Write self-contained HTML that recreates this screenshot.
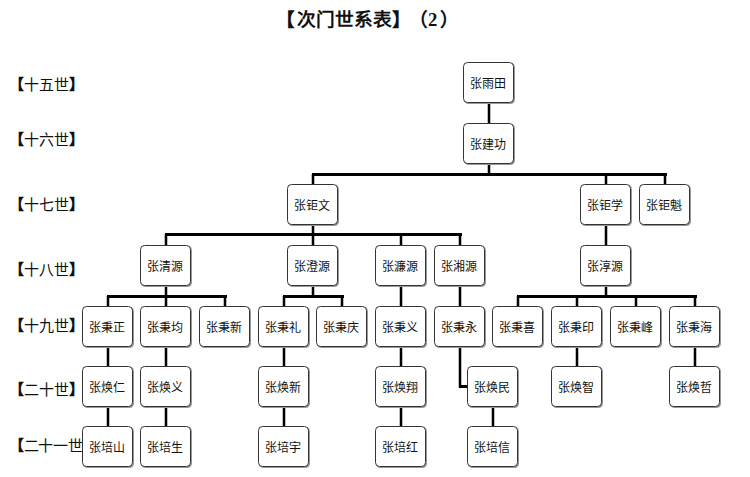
<!DOCTYPE html><html lang="zh-CN"><head><meta charset="utf-8"><title>次门世系表</title><style>
*{margin:0;padding:0;box-sizing:border-box}
html,body{width:750px;height:477px;background:#fff;overflow:hidden}
body{position:relative;text-spacing-trim:space-all;font-family:"Liberation Sans",sans-serif;color:#111}
.t{position:absolute;left:278px;top:5px;font-weight:bold;font-size:18.67px;line-height:30px;white-space:nowrap}
.t span{display:inline-block}
.l{position:absolute;left:9px;font-size:15px;line-height:30px;white-space:nowrap}
.b{position:absolute;width:51px;height:41px;background:#fff;border:1px solid #333;border-radius:4.5px;box-shadow:1px 1px 0 #999;font-size:12px;line-height:40px;padding:1px 2px 0 0;text-align:center;white-space:nowrap}
.k{position:absolute;background:#000}
.v{box-shadow:1px 0 0 #bbb,-1px 0 0 #bbb}
</style></head><body>
<div class="t"><span style="position:relative;left:-2px">【</span>次门世系表】<span style="position:relative;left:-2px">（<span style="font-family:'Liberation Serif',serif">2</span></span><span style="position:relative;left:1px">）</span></div>
<div class="k v" style="left:488px;top:103px;width:2px;height:20px"></div>
<div class="k v" style="left:488px;top:164px;width:2px;height:10px"></div>
<div class="k v" style="left:312px;top:174px;width:2px;height:10px"></div>
<div class="k v" style="left:605px;top:174px;width:2px;height:10px"></div>
<div class="k v" style="left:664px;top:174px;width:2px;height:10px"></div>
<div class="k v" style="left:312px;top:225px;width:2px;height:9px"></div>
<div class="k v" style="left:165px;top:234px;width:2px;height:11px"></div>
<div class="k v" style="left:312px;top:234px;width:2px;height:11px"></div>
<div class="k v" style="left:400px;top:234px;width:2px;height:11px"></div>
<div class="k v" style="left:459px;top:234px;width:2px;height:11px"></div>
<div class="k v" style="left:605px;top:225px;width:2px;height:20px"></div>
<div class="k v" style="left:165px;top:286px;width:2px;height:10px"></div>
<div class="k v" style="left:107px;top:296px;width:2px;height:10px"></div>
<div class="k v" style="left:165px;top:296px;width:2px;height:10px"></div>
<div class="k v" style="left:224px;top:296px;width:2px;height:10px"></div>
<div class="k v" style="left:312px;top:286px;width:2px;height:10px"></div>
<div class="k v" style="left:283px;top:296px;width:2px;height:10px"></div>
<div class="k v" style="left:341px;top:296px;width:2px;height:10px"></div>
<div class="k v" style="left:400px;top:286px;width:2px;height:20px"></div>
<div class="k v" style="left:459px;top:286px;width:2px;height:20px"></div>
<div class="k v" style="left:605px;top:286px;width:2px;height:10px"></div>
<div class="k v" style="left:517px;top:296px;width:2px;height:10px"></div>
<div class="k v" style="left:576px;top:296px;width:2px;height:10px"></div>
<div class="k v" style="left:635px;top:296px;width:2px;height:10px"></div>
<div class="k v" style="left:694px;top:296px;width:2px;height:10px"></div>
<div class="k v" style="left:107px;top:347px;width:2px;height:19px"></div>
<div class="k v" style="left:165px;top:347px;width:2px;height:19px"></div>
<div class="k v" style="left:283px;top:347px;width:2px;height:19px"></div>
<div class="k v" style="left:400px;top:347px;width:2px;height:19px"></div>
<div class="k v" style="left:576px;top:347px;width:2px;height:19px"></div>
<div class="k v" style="left:694px;top:347px;width:2px;height:19px"></div>
<div class="k v" style="left:459px;top:347px;width:2px;height:41px"></div>
<div class="k v" style="left:107px;top:407px;width:2px;height:19px"></div>
<div class="k v" style="left:165px;top:407px;width:2px;height:19px"></div>
<div class="k v" style="left:283px;top:407px;width:2px;height:19px"></div>
<div class="k v" style="left:400px;top:407px;width:2px;height:19px"></div>
<div class="k v" style="left:492px;top:407px;width:2px;height:19px"></div>
<div class="k" style="left:312px;top:173px;width:355px;height:3px"></div>
<div class="k" style="left:165px;top:233px;width:297px;height:3px"></div>
<div class="k" style="left:107px;top:295px;width:120px;height:3px"></div>
<div class="k" style="left:283px;top:295px;width:61px;height:3px"></div>
<div class="k" style="left:517px;top:295px;width:180px;height:3px"></div>
<div class="k" style="left:459px;top:385px;width:10px;height:3px"></div>
<div class="l" style="top:69.5px"><b>【</b>十五世<b>】</b></div>
<div class="l" style="top:124.5px"><b>【</b>十六世<b>】</b></div>
<div class="l" style="top:190.0px"><b>【</b>十七世<b>】</b></div>
<div class="l" style="top:254.5px"><b>【</b>十八世<b>】</b></div>
<div class="l" style="top:310.5px"><b>【</b>十九世<b>】</b></div>
<div class="l" style="top:375.0px"><b>【</b>二十世<b>】</b></div>
<div class="l" style="top:431.0px;letter-spacing:-0.35px"><b>【</b>二十一世<b>】</b></div>
<div class="b" style="left:463.00px;top:62.0px">张雨田</div>
<div class="b" style="left:463.00px;top:123.0px">张建功</div>
<div class="b" style="left:287.00px;top:184.0px">张钜文</div>
<div class="b" style="left:580.00px;top:184.0px">张钜学</div>
<div class="b" style="left:639.00px;top:184.0px">张钜魁</div>
<div class="b" style="left:140.00px;top:245.0px">张清源</div>
<div class="b" style="left:287.00px;top:245.0px">张澄源</div>
<div class="b" style="left:375.00px;top:245.0px">张濂源</div>
<div class="b" style="left:434.00px;top:245.0px">张湘源</div>
<div class="b" style="left:580.00px;top:245.0px">张淳源</div>
<div class="b" style="left:82.00px;top:306.0px">张秉正</div>
<div class="b" style="left:140.00px;top:306.0px">张秉均</div>
<div class="b" style="left:199.00px;top:306.0px">张秉新</div>
<div class="b" style="left:258.00px;top:306.0px">张秉礼</div>
<div class="b" style="left:316.00px;top:306.0px">张秉庆</div>
<div class="b" style="left:375.00px;top:306.0px">张秉义</div>
<div class="b" style="left:434.00px;top:306.0px">张秉永</div>
<div class="b" style="left:492.00px;top:306.0px">张秉喜</div>
<div class="b" style="left:551.00px;top:306.0px">张秉印</div>
<div class="b" style="left:610.00px;top:306.0px">张秉峰</div>
<div class="b" style="left:669.00px;top:306.0px">张秉海</div>
<div class="b" style="left:82.00px;top:366.0px">张焕仁</div>
<div class="b" style="left:140.00px;top:366.0px">张焕义</div>
<div class="b" style="left:258.00px;top:366.0px">张焕新</div>
<div class="b" style="left:375.00px;top:366.0px">张焕翔</div>
<div class="b" style="left:551.00px;top:366.0px">张焕智</div>
<div class="b" style="left:669.00px;top:366.0px">张焕哲</div>
<div class="b" style="left:467.00px;top:366.0px">张焕民</div>
<div class="b" style="left:82.00px;top:426.0px">张培山</div>
<div class="b" style="left:140.00px;top:426.0px">张培生</div>
<div class="b" style="left:258.00px;top:426.0px">张培宇</div>
<div class="b" style="left:375.00px;top:426.0px">张培红</div>
<div class="b" style="left:467.00px;top:426.0px">张培信</div>
</body></html>
